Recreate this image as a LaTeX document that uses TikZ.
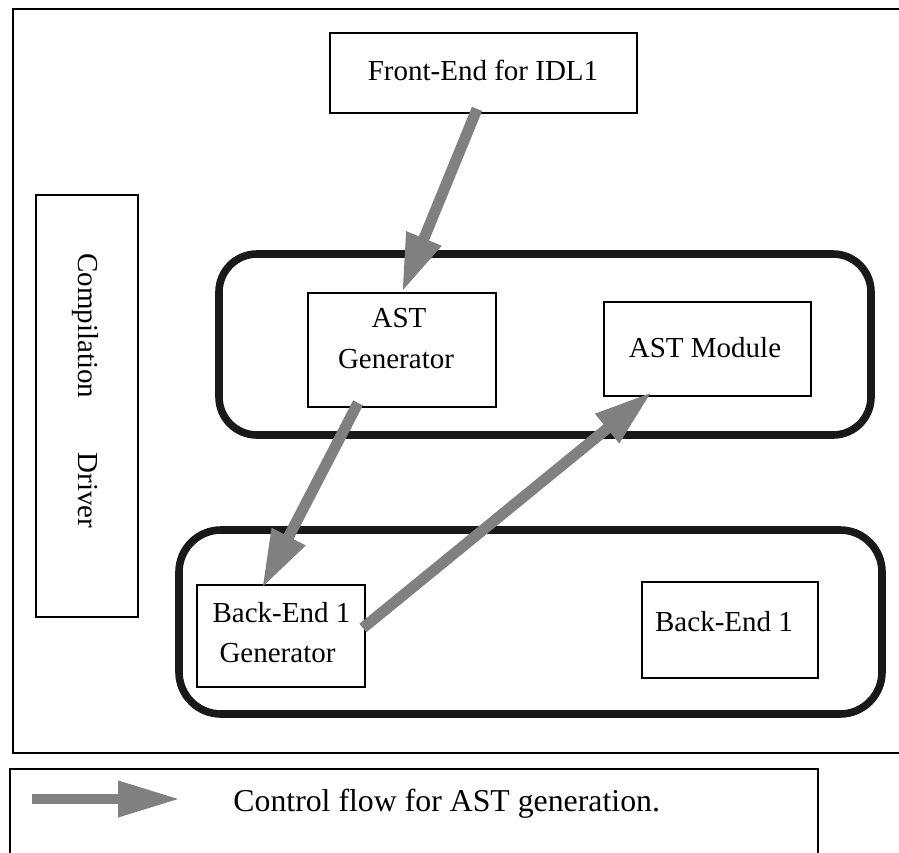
\documentclass[tikz,border=0pt]{standalone}
\usepackage{fontspec}
\setmainfont{Liberation Serif}
\usetikzlibrary{arrows.meta}
\definecolor{flowgray}{HTML}{808080}
\tikzset{
  box/.style={draw=black, line width=0.9pt, fill=white, rectangle, inner sep=0pt},
  group/.style={draw=black!90, line width=3.8pt, rectangle, rounded corners=19pt, inner sep=0pt},
  lbl/.style={inner sep=0pt, font=\fontsize{14.5}{17}\selectfont, anchor=base},
  flow/.style={draw=flowgray, line width=5.5pt, -{Triangle[length=29pt,width=17.5pt]}},
}
\begin{document}
\begin{tikzpicture}[x=0.5pt, y=-0.5pt]
\useasboundingbox (0,0) rectangle (899,852);
\clip (0,0) rectangle (899,852);
\fill[white] (0,0) rectangle (899,852);
% outer frame and legend frame
\node[draw=black, line width=1.1pt, rectangle, inner sep=0pt, minimum width=448.5pt, minimum height=372pt] (frame) at (461.5,381) {};
\node[draw=black, line width=1.1pt, rectangle, inner sep=0pt, minimum width=404pt, minimum height=50.5pt] (legend) at (414,819.5) {};
% groups
\node[group, minimum width=326pt, minimum height=90.5pt] (group1) at (545,344.5) {};
\node[group, rounded corners=21pt, minimum width=351.5pt, minimum height=92pt] (group2) at (530.5,622) {};
% boxes
\node[box, minimum width=153.5pt, minimum height=40pt] (fe) at (483.5,73) {};
\node[box, minimum width=51pt, minimum height=211pt] (driver) at (87,406) {};
\node[box, minimum width=94pt, minimum height=57pt] (astgen) at (402,350) {};
\node[box, minimum width=103.5pt, minimum height=47pt] (astmod) at (707.5,349) {};
\node[box, minimum width=84pt, minimum height=51pt] (begen) at (281,636) {};
\node[box, minimum width=88pt, minimum height=48pt] (be) at (730,630) {};
% texts
\node[lbl] (feT) at (483,80) {Front-End for IDL1};
\node[lbl, anchor=base west, rotate=-90] (driverT) at (78,253) {Compilation\hspace{27pt}Driver};
\node[lbl] (astgenA) at (399,327) {AST};
\node[lbl] (astgenB) at (396,368) {Generator};
\node[lbl] (astmodT) at (705,357) {AST Module};
\node[lbl] (begenA) at (281.5,622) {Back-End 1};
\node[lbl] (begenB) at (277.5,662) {Generator};
\node[lbl] (beT) at (724,631) {Back-End 1};
\node[lbl, anchor=base west, font=\fontsize{15.9}{19}\selectfont] (legT) at (233,811) {Control flow for AST generation.};
% flows
\draw[flow] ([xshift=-3.25pt,yshift=2.5pt]fe.south) -- (astgen.north);
\draw[flow] ([xshift=-22pt,yshift=2.5pt]astgen.south) -- ([xshift=-9.5pt,yshift=-2pt]begen.north);
\draw[flow] ([xshift=-1.5pt,yshift=4pt]begen.east) -- ([xshift=-27.75pt,yshift=2.5pt]astmod.south);
% legend arrow
\coordinate (legA) at (32,799);
\coordinate (legB) at (180,799);
\draw[flow, line width=5pt, -{Triangle[length=31pt,width=17pt]}] (legA) -- (legB);
\end{tikzpicture}
\end{document}
